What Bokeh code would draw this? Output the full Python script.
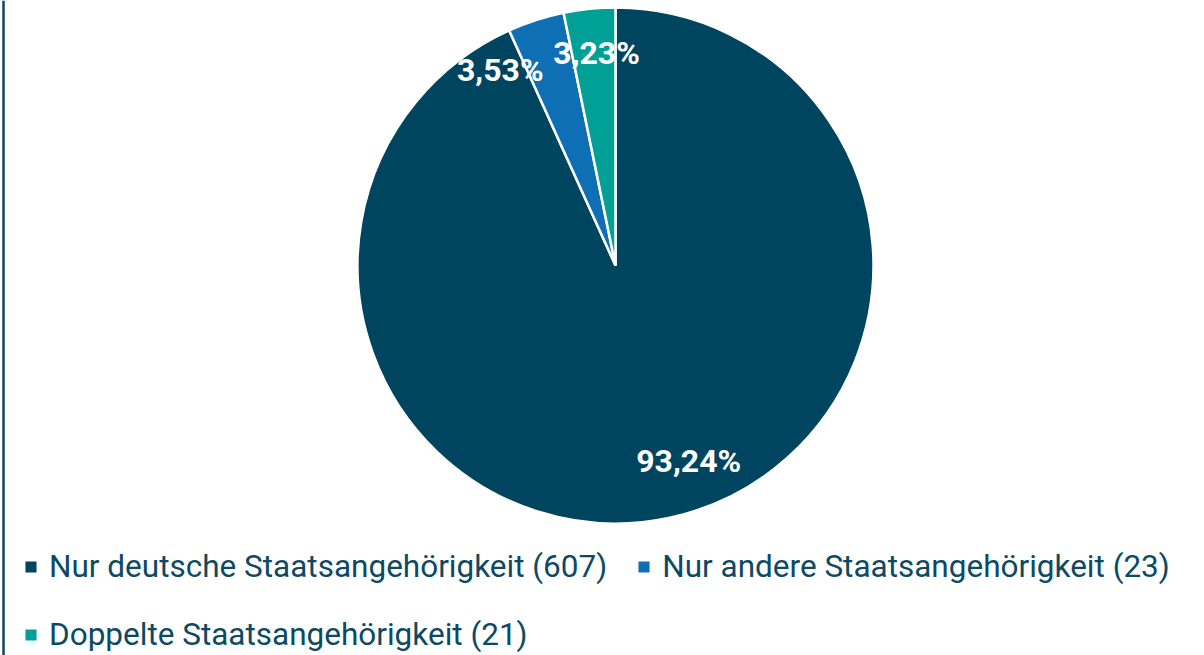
import math
from bokeh.plotting import figure
from bokeh.models import Range1d, Legend, LegendItem, Span, ColumnDataSource
from bokeh.core.properties import value
from bokeh.embed import file_html
from bokeh.resources import INLINE

# ---- data ----
categories = ["Nur deutsche Staatsangehörigkeit", "Nur andere Staatsangehörigkeit", "Doppelte Staatsangehörigkeit"]
counts = [607, 23, 21]
colors = ["#00455f", "#0f6fb4", "#00a096"]

# ---- layout ----
W, H = 1204, 655
CX, CY = 615, H - 265
R = 258
label_angle_deg = [159.5, 329.5, 354.9]   # clockwise from 12 o'clock
label_rfrac = [0.81, 0.88, 0.825]

total = sum(counts)
fracs = [c / total for c in counts]
starts, ends = [], []
cum = 0.0
for f in fracs:
    a0 = math.pi / 2 - 2 * math.pi * (cum + f)
    a1 = math.pi / 2 - 2 * math.pi * cum
    starts.append(a0)
    ends.append(a1)
    cum += f

pct_text = [("%.2f%%" % (f * 100)).replace(".", ",") for f in fracs]
lx = [CX + R * r * math.sin(math.radians(a)) for a, r in zip(label_angle_deg, label_rfrac)]
ly = [CY + R * r * math.cos(math.radians(a)) for a, r in zip(label_angle_deg, label_rfrac)]

p = figure(width=W, height=H, output_backend="svg", toolbar_location=None,
           x_range=Range1d(0, W), y_range=Range1d(0, H), min_border=0,
           background_fill_color="white", border_fill_color="white")
p.axis.visible = False
p.grid.visible = False
p.outline_line_color = None

items = []
for i in range(len(counts)):
    src = ColumnDataSource(dict(x=[CX], y=[CY], s=[starts[i]], e=[ends[i]]))
    r = p.wedge(x="x", y="y", radius=R, radius_units="screen", start_angle="s", end_angle="e",
                fill_color=colors[i], line_color="white", line_width=2.5, source=src)
    items.append(LegendItem(label="%s (%d)" % (categories[i], counts[i]), renderers=[r]))

p.text(x=lx, y=ly, text=pct_text, text_color="white", text_font=value("Roboto"),
       text_font_style="bold", text_font_size="32px", text_align="center", text_baseline="middle")

p.add_layout(Span(location=3, dimension="height", line_color="#0a4a5e", line_width=2.5))

legend = Legend(items=items, ncols=2, location=(22, 1), orientation="horizontal",
                label_text_font="Roboto", label_text_font_size="31.5px", label_text_color="#0d4a62",
                glyph_width=17, glyph_height=17, label_standoff=10, label_height=40,
                spacing=28, padding=0, margin=0, border_line_color=None,
                background_fill_alpha=0)
p.add_layout(legend, "center")

open("out.html", "w").write(file_html(p, INLINE))
